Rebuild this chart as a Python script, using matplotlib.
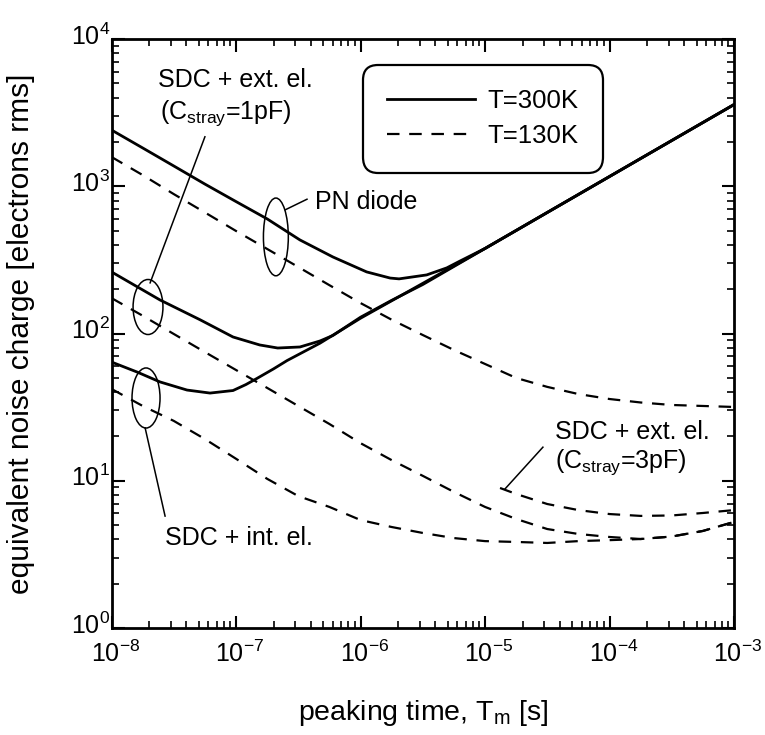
import matplotlib
matplotlib.use("Agg")
import matplotlib.pyplot as plt
from matplotlib.patches import Ellipse
from matplotlib.transforms import ScaledTranslation

plt.rcParams['font.family'] = ['Liberation Sans', 'DejaVu Sans']
plt.rcParams['mathtext.fontset'] = 'custom'
plt.rcParams['mathtext.rm'] = 'Liberation Sans'
plt.rcParams['mathtext.it'] = 'Liberation Sans:italic'
plt.rcParams['axes.unicode_minus'] = False
plt.rcParams['lines.scale_dashes'] = False

# T = 300K curves: peaking time [s] and ENC [electrons rms]
tau_pn_300 = [1.0e-8, 1.78e-8, 3.16e-8, 5.62e-8, 1.0e-7, 1.78e-7, 3.26e-7, 6.0e-7,
              1.12e-6, 1.73e-6, 2.04e-6, 3.40e-6, 4.93e-6, 6.27e-6, 1.0e-5,
              3.16e-5, 1.0e-4, 3.16e-4, 1.0e-3]
enc_pn_300 = [2410, 1820, 1374, 1035, 787, 600, 432, 331,
              262, 238, 235, 250, 279, 310, 378,
              664, 1165, 2045, 3589]

tau_ext1_300 = [1.0e-8, 2.45e-8, 5.14e-8, 9.46e-8, 1.55e-7, 2.16e-7, 3.26e-7, 4.73e-7,
                6.0e-7, 1.0e-6, 1.78e-6, 3.16e-6, 1.0e-5, 1.0e-4, 1.0e-3]
enc_ext1_300 = [262, 169, 124, 94.7, 83.6, 79.7, 81.0, 89,
                97, 129, 168, 215, 378, 1165, 3589]

tau_int_300 = [1.0e-8, 1.60e-8, 2.45e-8, 4.04e-8, 6.18e-8, 9.46e-8, 1.2e-7, 1.47e-7,
               2.0e-7, 2.57e-7, 4.73e-7, 1.0e-6, 1.0e-5, 1.0e-4, 1.0e-3]
enc_int_300 = [64.0, 54.8, 46.9, 41.3, 39.4, 41.0, 45.0, 49.5,
               57.5, 65.5, 86, 127, 378, 1165, 3589]

# T = 130K curves
tau = [1.0e-8, 1.78e-8, 3.16e-8, 5.62e-8, 1.0e-7, 1.78e-7, 3.16e-7, 5.62e-7,
       1.0e-6, 1.78e-6, 3.16e-6, 5.62e-6, 1.0e-5, 1.78e-5, 3.16e-5, 5.62e-5,
       1.0e-4, 1.78e-4, 3.16e-4, 5.62e-4, 1.0e-3]
enc_pn_130 = [1581, 1191, 885, 664, 497, 375, 283, 213, 161, 124, 97.7, 77.3,
              62.1, 49.9, 43.4, 38.8, 35.9, 34.0, 32.7, 32.2, 31.7]
enc_ext1_130 = [174, 132, 99.3, 74.8, 56.5, 42.7, 32.2, 24.3, 18.0, 13.8, 10.8, 8.4,
                6.64, 5.50, 4.70, 4.35, 4.15, 4.02, 4.18, 4.56, 5.25]
enc_int_130 = [42.0, 32.2, 25.5, 19.2, 14.1, 10.3, 7.87, 6.64, 5.41, 4.85, 4.42, 4.08,
               3.89, 3.84, 3.78, 3.89, 3.95, 4.02, 4.18, 4.56, 5.25]

tau_ext3 = [1.32e-5, 1.78e-5, 3.16e-5, 5.62e-5, 1.0e-4, 1.78e-4, 3.16e-4, 5.62e-4, 1.0e-3]
enc_ext3_130 = [8.93, 8.13, 6.95, 6.32, 5.94, 5.77, 5.81, 6.04, 6.32]

fig = plt.figure(figsize=(7.65, 7.35), dpi=100)
ax = fig.add_axes([0.1458, 0.1456, 0.8137, 0.8013])

solid = dict(color='black', lw=2.0, solid_joinstyle='round')
dashed = dict(color='black', lw=1.6, dashes=(9, 7))

ax.plot(tau_pn_300, enc_pn_300, label='T=300K', **solid)
ax.plot(tau_ext1_300, enc_ext1_300, **solid)
ax.plot(tau_int_300, enc_int_300, **solid)
ax.plot(tau, enc_pn_130, label='T=130K', **dashed)
ax.plot(tau, enc_ext1_130, **dashed)
ax.plot(tau, enc_int_130, **dashed)
ax.plot(tau_ext3, enc_ext3_130, **dashed)

ax.set_xscale('log')
ax.set_yscale('log')
ax.set_xlim(1e-8, 1e-3)
ax.set_ylim(1e0, 1e4)

for s in ax.spines.values():
    s.set_linewidth(2.0)
ax.tick_params(which='both', direction='in', top=True, right=True, colors='black')
ax.tick_params(which='major', length=9, width=1.5, labelsize=18)
ax.tick_params(which='minor', length=5, width=1.2)
ax.tick_params(axis='x', which='major', pad=9)
ax.tick_params(axis='y', which='major', pad=1)

# keep the "10" of each label near the middle of its tick
for lab in ax.get_xticklabels():
    lab.set_transform(lab.get_transform() + ScaledTranslation(0.04, 0, fig.dpi_scale_trans))
for lab in ax.get_yticklabels():
    lab.set_transform(lab.get_transform() + ScaledTranslation(0, 0.05, fig.dpi_scale_trans))

ax.set_xlabel(r'peaking time, T$_\mathrm{m}$ [s]', fontsize=20.5)
ax.set_ylabel('equivalent noise charge [electrons rms]', fontsize=21.5)
ax.xaxis.set_label_coords(0.5, -0.119)
ax.yaxis.set_label_coords(-0.123, 0.5)

leg = ax.legend(loc='upper left', bbox_to_anchor=(0.404, 0.956), borderaxespad=0,
                fontsize=18.5, handlelength=3.4, handletextpad=0.5, labelspacing=0.42,
                borderpad=0.95, frameon=True, fancybox=True)
frame = leg.get_frame()
frame.set_edgecolor('black')
frame.set_linewidth(1.6)
frame.set_alpha(1)
frame.set_boxstyle('round,pad=0,rounding_size=0.6')

# curve labels with rings and pointers (axes coordinates)
T = ax.transAxes
thin = dict(color='black', lw=1.1, transform=T)
txt = dict(fontsize=18, transform=T, va='center', ha='left')

ax.text(0.0747, 0.930, 'SDC + ext. el.', **txt)
ax.text(0.078, 0.874, r'(C$_\mathrm{stray}$=1pF)', **txt)
ax.plot([0.150, 0.062], [0.834, 0.586], **thin)
ax.add_patch(Ellipse((0.0586, 0.545), 0.048, 0.0934, fill=False, ec='black', lw=1.1, transform=T))

ax.text(0.327, 0.723, 'PN diode', **txt)
ax.plot([0.279, 0.314], [0.710, 0.728], **thin)
ax.add_patch(Ellipse((0.264, 0.664), 0.040, 0.132, fill=False, ec='black', lw=1.1, transform=T))

ax.text(0.086, 0.153, 'SDC + int. el.', **txt)
ax.plot([0.054, 0.086], [0.3396, 0.190], **thin)
ax.add_patch(Ellipse((0.0554, 0.3905), 0.045, 0.102, fill=False, ec='black', lw=1.1, transform=T))

ax.text(0.712, 0.333, 'SDC + ext. el.', **txt)
ax.text(0.712, 0.282, r'(C$_\mathrm{stray}$=3pF)', **txt)
ax.plot([0.693, 0.632], [0.307, 0.236], **thin)

fig.savefig('out.png', dpi=100)
